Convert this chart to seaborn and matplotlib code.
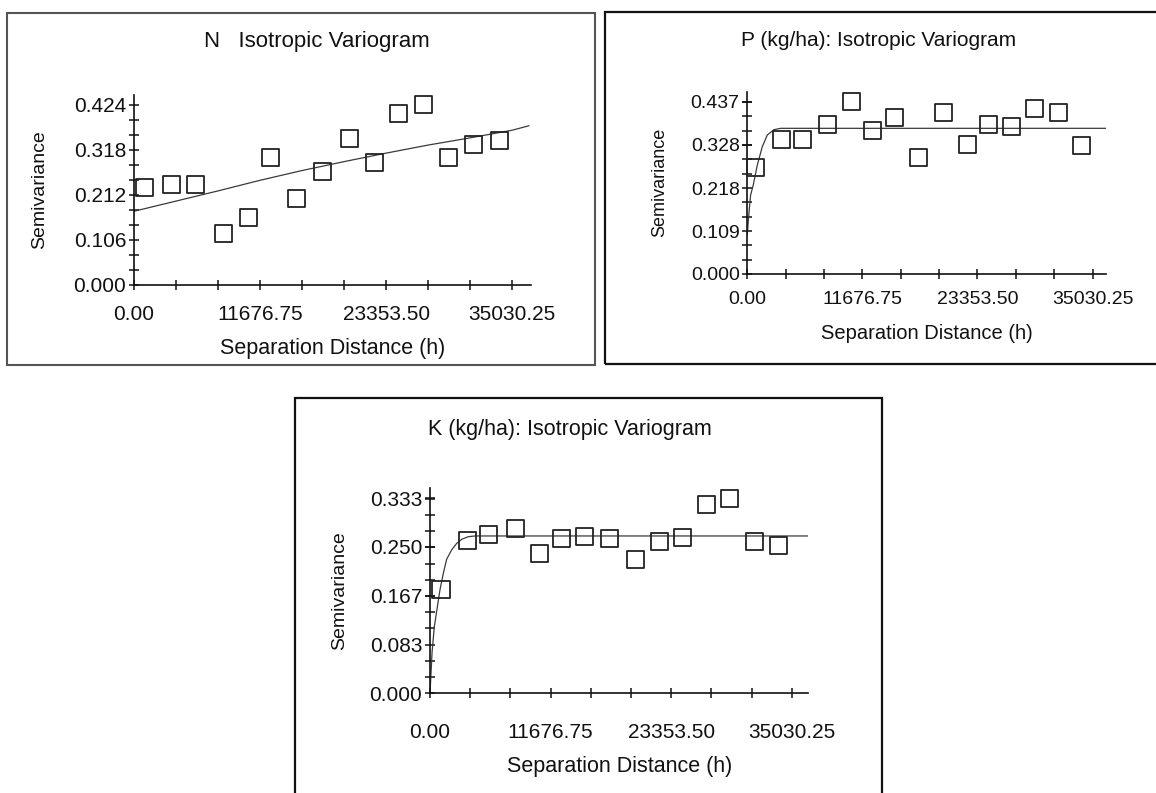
import numpy as np
import pandas as pd
import matplotlib
matplotlib.use("Agg")
import matplotlib.pyplot as plt
import seaborn as sns
from matplotlib.patches import Rectangle
from matplotlib.ticker import FixedLocator

sns.set_style("ticks")
plt.rcParams['font.family'] = ['Liberation Sans', 'DejaVu Sans']

# ---------------- data ----------------
titles = ["N   Isotropic Variogram",
          "P (kg/ha): Isotropic Variogram",
          "K (kg/ha): Isotropic Variogram"]

lag_N = [988, 3460, 5684, 8248, 10565, 12665, 15075, 17422, 19986, 22303, 24465, 26843, 29158, 31477, 33824]
gam_N = [0.228, 0.236, 0.236, 0.120, 0.159, 0.300, 0.202, 0.267, 0.344, 0.287, 0.403, 0.424, 0.300, 0.330, 0.340]
model_h_N = [0, 3892, 7785, 11677, 15569, 19461, 23354, 27246, 31138, 35030, 36574]
model_g_N = [0.173, 0.197, 0.221, 0.246, 0.269, 0.290, 0.310, 0.329, 0.346, 0.364, 0.3745]

lag_P = [879, 3483, 5613, 8150, 10585, 12681, 14981, 17415, 19952, 22319, 24516, 26816, 29183, 31618, 33918]
gam_P = [0.270, 0.340, 0.340, 0.378, 0.437, 0.365, 0.397, 0.295, 0.410, 0.329, 0.378, 0.375, 0.420, 0.410, 0.327]
model_h_P = [0, 150, 334, 608, 1013, 1520, 2027, 2696, 3375, 4500, 36600]
model_g_P = [0.100, 0.150, 0.200, 0.226, 0.276, 0.323, 0.3525, 0.366, 0.3695, 0.3695, 0.3695]

lag_K = [1065, 3615, 5712, 8294, 10586, 12748, 15007, 17363, 19912, 22269, 24463, 26787, 29046, 31466, 33790]
gam_K = [0.177, 0.261, 0.272, 0.281, 0.239, 0.265, 0.268, 0.265, 0.228, 0.259, 0.266, 0.323, 0.333, 0.259, 0.252]
model_h_K = [0, 200, 420, 645, 968, 1291, 1614, 2098, 2582, 3066, 3711, 4357, 36630]
model_g_K = [0.0, 0.070, 0.114, 0.140, 0.177, 0.205, 0.229, 0.245, 0.256, 0.263, 0.2675, 0.2687, 0.2687]

x_tick_vals = [0.0, 11676.75, 23353.50, 35030.25]
x_tick_labels = ["0.00", "11676.75", "23353.50", "35030.25"]
x_minor_step = 3892.25

y_ticks_N = [0.000, 0.106, 0.212, 0.318, 0.424]
y_labels_N = ["0.000", "0.106", "0.212", "0.318", "0.424"]
y_ticks_P = [0.000, 0.109, 0.218, 0.328, 0.437]
y_labels_P = ["0.000", "0.109", "0.218", "0.328", "0.437"]
y_ticks_K = [0.000, 0.083, 0.167, 0.250, 0.333]
y_labels_K = ["0.000", "0.083", "0.167", "0.250", "0.333"]

xlabel = "Separation Distance (h)"
ylabel = "Semivariance"

# ---------------- figure ----------------
W, H = 1156, 793
fig = plt.figure(figsize=(W / 100, H / 100), dpi=100)


def px_axes(left, right, top, bottom):
    return fig.add_axes([left / W, 1 - bottom / H, (right - left) / W, (bottom - top) / H])


def panel(ax, lag, gam, mh, mg, xmax, ymax, yt, yl, fs, xpad, ypad, xlab_y, ylab_x):
    df_pts = pd.DataFrame({"h": lag, "g": gam})
    df_mod = pd.DataFrame({"h": mh, "g": mg})
    sns.lineplot(data=df_mod, x="h", y="g", ax=ax, color="#3a3a3a", lw=0.9,
                 sort=False, estimator=None)
    sns.scatterplot(data=df_pts, x="h", y="g", ax=ax, marker="s", s=150,
                    facecolor="none", edgecolor="#222222", linewidth=1.3,
                    clip_on=False, zorder=3)
    ax.set_xlim(0, xmax)
    ax.set_ylim(0, ymax)
    ax.set_facecolor("none")
    for s in ("top", "right"):
        ax.spines[s].set_visible(False)
    for s in ("left", "bottom"):
        ax.spines[s].set_linewidth(1.2)
        ax.spines[s].set_color("#111111")
    ax.xaxis.set_major_locator(FixedLocator(x_tick_vals))
    ax.set_xticklabels(x_tick_labels)
    ax.xaxis.set_minor_locator(FixedLocator([x_minor_step * i for i in range(10)]))
    ax.yaxis.set_major_locator(FixedLocator(yt))
    ax.set_yticklabels(yl)
    step = (yt[1] - yt[0]) / 3.0
    ax.yaxis.set_minor_locator(FixedLocator([yt[0] + step * i for i in range(13)]))
    ax.tick_params(which="both", direction="inout", length=7, width=1.1,
                   bottom=True, left=True, top=False, right=False,
                   color="#111111", labelsize=fs, labelcolor="#111111")
    ax.tick_params(axis="x", which="both", pad=xpad)
    ax.tick_params(axis="y", which="both", pad=ypad)
    ax.set_xlabel(xlabel, fontsize=fs + 0.5, color="#111111")
    ax.set_ylabel(ylabel, fontsize=fs - 1, color="#111111")
    ax.xaxis.set_label_coords(0.5, xlab_y)
    ax.xaxis.label.set_verticalalignment("center")
    ax.yaxis.set_label_coords(ylab_x, 0.5)
    ax.yaxis.label.set_verticalalignment("center")


axN = px_axes(134, 531, 94.7, 284.7)
panel(axN, lag_N, gam_N, model_h_N, model_g_N, 36760, 0.4476,
      y_ticks_N, y_labels_N, 15, 11, 2, -0.338, -0.237)

axP = px_axes(747.3, 1106, 91.7, 274)
panel(axP, lag_P, gam_P, model_h_P, model_g_P, 36400, 0.4624,
      y_ticks_P, y_labels_P, 14, 9, 2, -0.324, -0.243)

axK = px_axes(430, 808.3, 488.3, 693.3)
panel(axK, lag_K, gam_K, model_h_K, model_g_K, 36630, 0.3501,
      y_ticks_K, y_labels_K, 15, 18, 2, -0.355, -0.238)

# titles
fig.text(317 / W, 1 - 41 / H, titles[0], ha="center", va="center", fontsize=16, color="#111111")
fig.text(879 / W, 1 - 41 / H, titles[1], ha="center", va="center", fontsize=15, color="#111111")
fig.text(570 / W, 1 - 430 / H, titles[2], ha="center", va="center", fontsize=15.5, color="#111111")

# panel frames
fig.patches.append(Rectangle((7 / W, 1 - 365 / H), (595 - 7) / W, (365 - 13) / H,
                             transform=fig.transFigure, fill=False, ec="#555555", lw=1.5))
fig.patches.append(Rectangle((605 / W, 1 - 364 / H), (1175 - 605) / W, (364 - 12) / H,
                             transform=fig.transFigure, fill=False, ec="#111111", lw=1.6))
fig.patches.append(Rectangle((295 / W, 1 - 810 / H), (882 - 295) / W, (810 - 398) / H,
                             transform=fig.transFigure, fill=False, ec="#111111", lw=1.6))

fig.savefig("out.png", dpi=100, facecolor="white")
